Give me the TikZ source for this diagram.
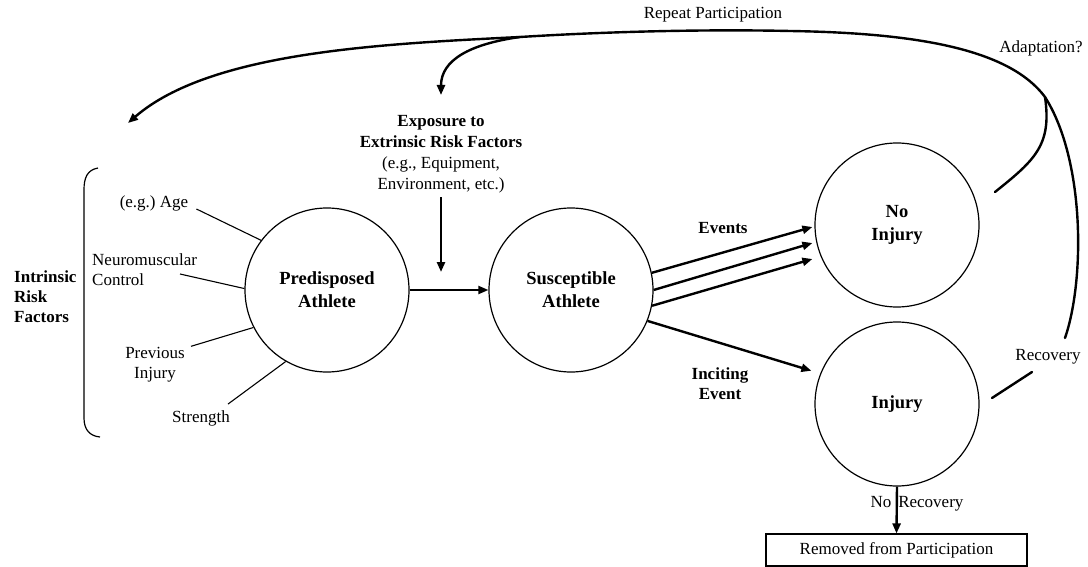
\documentclass[tikz,border=0pt]{standalone}
\usepackage{fontspec}
\setmainfont{Liberation Serif}
\usetikzlibrary{arrows.meta}
\begin{document}
\begin{tikzpicture}[x=1pt,y=-1pt,
  circ/.style={circle,draw,line width=1.2pt,minimum size=164pt,inner sep=0pt,align=center,font=\fontsize{18.5}{23}\selectfont\bfseries},
  lbl/.style={inner sep=0pt,align=center,font=\fontsize{17}{20}\selectfont},
  blbl/.style={inner sep=0pt,align=center,font=\fontsize{17}{20}\selectfont\bfseries},
  attr/.style={line width=1.1pt},
  tip/.style={-{Triangle[length=10pt,width=8pt]}},
  arr/.style={line width=2.4pt,tip},
  fb/.style={line width=2.4pt,line cap=round},
]
\useasboundingbox (0,0) rectangle (1088,567);

% circles
\node[circ] (pre) at (327,290) {Predisposed\\Athlete};
\node[circ] (sus) at (571,290) {Susceptible\\Athlete};
\node[circ] (noinj) at (897,225) {No\\Injury};
\node[circ] (inj) at (897,404) {Injury};
\node[draw,line width=1.1pt,minimum width=261pt,minimum height=32pt,inner sep=0pt,font=\fontsize{17}{20}\selectfont] (rem) at (896.5,550) {Removed from Participation};

% intrinsic factors
\node[blbl,anchor=west,align=left] (intr) at (14,297) {Intrinsic\\Risk\\Factors};
\node[lbl] (age) at (154,203) {(e.g.)\ Age};
\node[lbl,anchor=west,align=left] (neuro) at (92,270) {Neuromuscular\\Control};
\node[lbl] (prev) at (155,365) {Previous\\Injury};
\node[lbl] (str) at (201,418) {Strength};
\draw[line width=1.2pt] (98,168) .. controls (87,170) and (84,178) .. (84,190) -- (84,418) .. controls (84,430) and (90,436) .. (100,437);

\draw[attr] ([xshift=8pt,yshift=-6pt]age.east) -- (pre.143);
\draw[attr] (180,274) -- (pre.179);
\draw[attr] ([xshift=6pt,yshift=1pt]prev.north east) -- (pre.207);
\draw[attr] ([xshift=-2pt,yshift=6pt]str.north east) -- (pre.240);

% extrinsic
\node[inner sep=0pt,align=center,font=\fontsize{17}{21}\selectfont] (expo) at (441,154) {\textbf{Exposure to}\\\textbf{Extrinsic Risk Factors}\\(e.g., Equipment,\\Environment, etc.)};
\coordinate (expoEnd) at (441,272);
\draw[line width=2.8pt,tip] ([yshift=-4pt]expo.south) -- (expoEnd);

\draw[line width=2pt,tip] (pre.east) -- (sus.west);

% events
\draw[arr] (sus.12) -- ([xshift=-2pt,yshift=-2pt]noinj.west);
\draw[arr] (sus.0) -- ([xshift=-2pt,yshift=-18pt]noinj.west);
\draw[arr] (sus.-11) -- ([xshift=-2pt,yshift=-34pt]noinj.west);
\node[blbl] (ev) at (723,228) {Events};
\draw[arr] (sus.-22) -- ([xshift=-8pt,yshift=5pt]inj.160);
\node[blbl] (inc) at (720,384) {Inciting\\Event};

% no recovery
\draw[arr] (inj.south) -- (rem.north);
\node[lbl] (norec) at (917,504) {No\hspace{7pt}Recovery};

% feedback
\coordinate (fbStart) at (1065,338);
\coordinate (fbEnd) at (128,123);
\coordinate (expoTip) at (441,95);
\coordinate (nibr) at (995,192);
\coordinate (merge) at (1045,97);
\coordinate (topA) at (790,31);
\coordinate (split) at (520,37);
\coordinate (recA) at (992,398);
\coordinate (recB) at (1032,372);
\draw[fb,tip] (fbStart) .. controls (1085,280) and (1085,160) .. (merge)
  .. controls (1010,50) and (920,33) .. (topA)
  .. controls (700,29) and (600,32) .. (split)
  .. controls (380,44) and (210,52) .. (fbEnd);
\draw[fb,tip] (split) .. controls (470,44) and (441,60) .. (expoTip);
\draw[fb] (nibr) .. controls (1035,160) and (1052,145) .. (merge);
\draw[fb] (recA) -- (recB);

\node[lbl] (rep) at (713,15) {Repeat Participation};
\node[lbl] (adapt) at (1041,48) {Adaptation?};
\node[lbl] (rec) at (1048,357) {Recovery};
\end{tikzpicture}
\end{document}
